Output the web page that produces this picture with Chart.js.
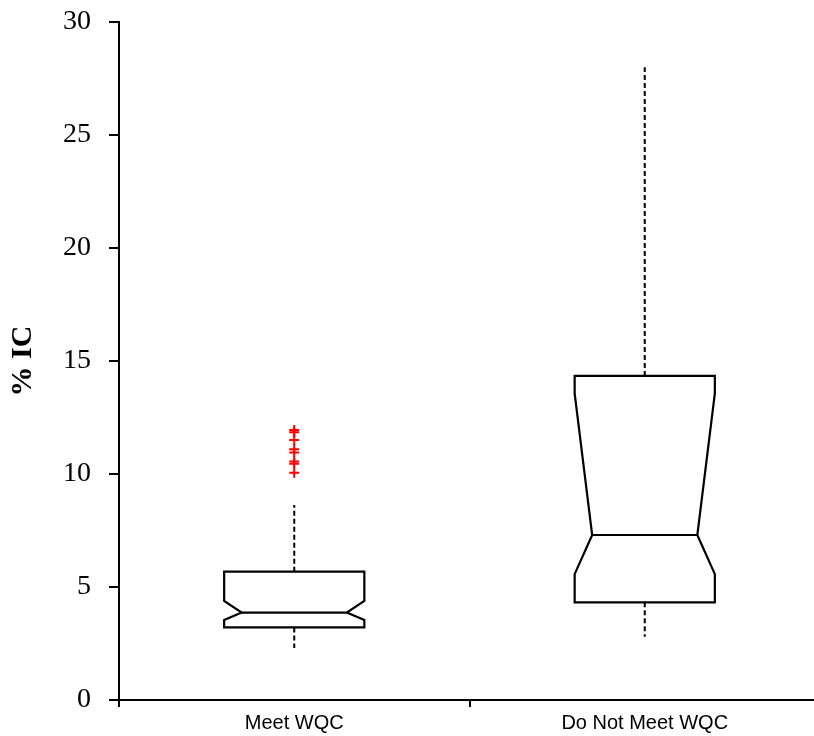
<!DOCTYPE html>
<html>
<head>
<meta charset="utf-8">
<script src="https://cdn.jsdelivr.net/npm/chart.js@4"></script>
<style>
  html, body { margin: 0; padding: 0; background: #fff; overflow: hidden; }
  #wrap { width: 827px; height: 736px; }
</style>
</head>
<body>
<div id="wrap"><canvas id="c" width="827" height="736"></canvas></div>
<script>
// ---- Data ----
const categories   = ['Meet WQC', 'Do Not Meet WQC'];
const whiskerLow   = [2.3, 2.8];
const q1           = [3.21, 4.32];
const notchLow     = [3.54, 5.57];
const median       = [3.87, 7.30];
const notchHigh    = [4.38, 13.57];
const q3           = [5.68, 14.34];
const whiskerHigh  = [8.63, 28.0];
const outliersMeet = [11.95, 11.85, 11.5, 11.1, 10.95, 10.55, 10.45, 10.05];
const outliersNot  = [];
const yTicks       = [0, 5, 10, 15, 20, 25, 30];

const outlierPoints = []
  .concat(outliersMeet.map(v => ({ x: categories[0], y: v })))
  .concat(outliersNot.map(v => ({ x: categories[1], y: v })));

// ---- Box plot drawing plugin (uses chart scales) ----
const boxPlugin = {
  id: 'notchedBox',
  afterDatasetsDraw(chart) {
    const { ctx, scales: { x, y } } = chart;
    const catW = x.getPixelForValue(1) - x.getPixelForValue(0);
    const half = catW * 0.2;
    const inset = half * 0.25;
    ctx.save();
    ctx.strokeStyle = '#000';
    categories.forEach((c, i) => {
      const cx = x.getPixelForValue(i);
      const L = cx - half, R = cx + half;
      const yQ1 = y.getPixelForValue(q1[i]);
      const yQ3 = y.getPixelForValue(q3[i]);
      const yNL = y.getPixelForValue(notchLow[i]);
      const yNH = y.getPixelForValue(notchHigh[i]);
      const yMed = y.getPixelForValue(median[i]);
      // whiskers
      ctx.lineWidth = 2;
      ctx.setLineDash([5, 3]);
      ctx.beginPath();
      ctx.moveTo(cx, yQ3);
      ctx.lineTo(cx, y.getPixelForValue(whiskerHigh[i]));
      ctx.moveTo(cx, yQ1);
      ctx.lineTo(cx, y.getPixelForValue(whiskerLow[i]));
      ctx.stroke();
      ctx.setLineDash([]);
      // notched box outline
      ctx.lineWidth = 2.2;
      ctx.lineJoin = 'miter';
      ctx.beginPath();
      ctx.moveTo(L, yQ3);
      ctx.lineTo(R, yQ3);
      ctx.lineTo(R, yNH);
      ctx.lineTo(R - inset, yMed);
      ctx.lineTo(R, yNL);
      ctx.lineTo(R, yQ1);
      ctx.lineTo(L, yQ1);
      ctx.lineTo(L, yNL);
      ctx.lineTo(L + inset, yMed);
      ctx.lineTo(L, yNH);
      ctx.closePath();
      ctx.stroke();
      // median
      ctx.beginPath();
      ctx.moveTo(L + inset, yMed);
      ctx.lineTo(R - inset, yMed);
      ctx.stroke();
    });
    ctx.restore();
  }
};

new Chart(document.getElementById('c'), {
  type: 'line',
  data: {
    labels: categories,
    datasets: [{
      label: 'Outliers',
      data: outlierPoints,
      showLine: false,
      pointStyle: 'cross',
      pointRadius: 5,
      pointBorderWidth: 2,
      borderColor: '#ff0000',
      backgroundColor: '#ff0000'
    }]
  },
  options: {
    responsive: false,
    animation: false,
    layout: { padding: { top: 22, right: 0, left: 0, bottom: 0 } },
    plugins: { legend: { display: false }, tooltip: { enabled: false } },
    scales: {
      x: {
        type: 'category',
        offset: true,
        grid: { offset: true, drawOnChartArea: false, drawTicks: true, tickLength: 7, color: '#000', lineWidth: 2 },
        border: { display: true, color: '#000', width: 2 },
        ticks: { color: '#000', padding: 4, font: { family: '"Liberation Sans", Arial, sans-serif', size: 20 } },
        afterFit(s) { s.height = 36; s.paddingLeft = 0; s.paddingRight = 0; }
      },
      y: {
        type: 'linear',
        min: 0, max: 30,
        afterBuildTicks(s) { s.ticks = yTicks.map(v => ({ value: v })); },
        grid: { drawOnChartArea: false, drawTicks: true, tickLength: 10, color: '#000', lineWidth: 2 },
        border: { display: true, color: '#000', width: 2 },
        ticks: { color: '#000', padding: 18, font: { family: '"Liberation Serif", "Times New Roman", serif', size: 28 } },
        title: {
          display: true, text: '% IC', color: '#000',
          font: { family: '"Liberation Serif", "Times New Roman", serif', size: 30, weight: 'bold' },
          padding: { top: 5, bottom: 0 }
        },
        afterFit(s) { s.width = 119; s.paddingTop = 0; s.paddingBottom = 0; }
      }
    }
  },
  plugins: [boxPlugin]
});
</script>
</body>
</html>
